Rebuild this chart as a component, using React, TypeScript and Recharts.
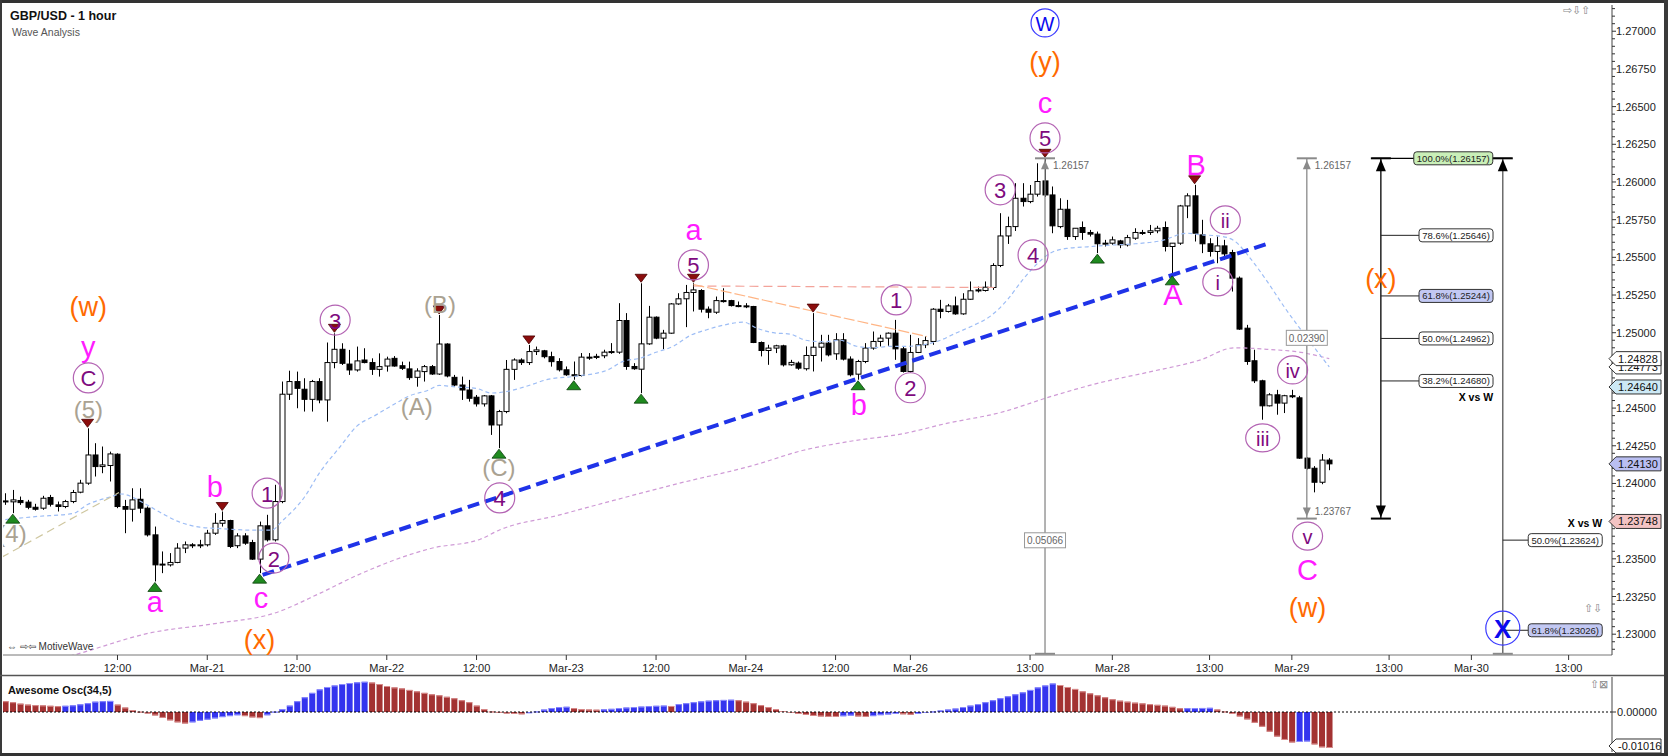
import React from 'react';
import { ComposedChart, Bar, Line, Scatter, XAxis, YAxis, ReferenceLine } from 'recharts';

const FONT = '"Liberation Sans", Arial, Helvetica, sans-serif';

// ---------- axes ----------
// x = trading hours counted from the Sunday Mar-19 21:00 open (weekend hours skipped)
const dateTickHours = [15, 27, 39, 51, 63, 75, 87, 99, 111, 121, 137, 148, 161, 172, 185, 196, 209];
const dateTickLabels = ['12:00', 'Mar-21', '12:00', 'Mar-22', '12:00', 'Mar-23', '12:00', 'Mar-24', '12:00', 'Mar-26', '13:00', 'Mar-28', '13:00', 'Mar-29', '13:00', 'Mar-30', '13:00'];
const priceLabels = [1.23, 1.2325, 1.235, 1.2375, 1.24, 1.2425, 1.245, 1.2475, 1.25, 1.2525, 1.255, 1.2575, 1.26, 1.2625, 1.265, 1.2675, 1.27];
const axisMarkers = [1.24773, 1.24828, 1.2464, 1.2413, 1.23748];
const oscAxisLabels = [0, -0.01016];

const X_MIN = -0.307;
const X_MAX = 214.8;
const P_MIN = 1.22862;
const P_MAX = 1.27174;
const AO_MIN = -0.01129;
const AO_MAX = 0.00988;

// ---------- GBP/USD hourly candles [open, high, low, close] ----------
const ohlc = [
  [1.23884, 1.23935, 1.23858, 1.2388], [1.23878, 1.23957, 1.23803, 1.23891], [1.23887, 1.23913, 1.23858, 1.23873], [1.23876, 1.23891, 1.23829, 1.23842],
  [1.23842, 1.23865, 1.2382, 1.23829], [1.23836, 1.23918, 1.23825, 1.23902], [1.23907, 1.23924, 1.23847, 1.23862], [1.23858, 1.2388, 1.23814, 1.23847],
  [1.23847, 1.23891, 1.23836, 1.2388], [1.2388, 1.23957, 1.23869, 1.2394], [1.23942, 1.24024, 1.23935, 1.24002], [1.24002, 1.24366, 1.23991, 1.24189],
  [1.24189, 1.24267, 1.24046, 1.24112], [1.24112, 1.24245, 1.24068, 1.24123], [1.24119, 1.24211, 1.24013, 1.24196], [1.24194, 1.242, 1.23836, 1.23847],
  [1.23847, 1.23891, 1.2367, 1.23829], [1.23829, 1.23968, 1.23747, 1.23891], [1.23895, 1.23968, 1.23803, 1.23836], [1.23836, 1.23847, 1.23648, 1.23659],
  [1.23659, 1.23714, 1.2335, 1.2346], [1.2346, 1.23549, 1.23405, 1.23465], [1.2346, 1.23538, 1.23449, 1.23476], [1.23476, 1.23604, 1.23471, 1.23571],
  [1.23571, 1.23615, 1.23538, 1.23593], [1.23593, 1.23604, 1.23571, 1.2359], [1.2359, 1.23626, 1.23571, 1.23593], [1.23593, 1.23692, 1.23582, 1.2367],
  [1.2367, 1.23803, 1.23659, 1.23736], [1.23736, 1.23814, 1.23714, 1.23754], [1.23754, 1.23759, 1.23571, 1.23582], [1.23587, 1.2367, 1.23571, 1.23652],
  [1.23652, 1.2367, 1.23593, 1.23604], [1.23608, 1.23626, 1.23493, 1.23498], [1.23498, 1.23747, 1.23405, 1.23719], [1.23719, 1.23792, 1.23615, 1.23626],
  [1.23626, 1.23991, 1.23615, 1.2388], [1.2388, 1.24676, 1.23869, 1.24592], [1.24592, 1.24748, 1.24554, 1.24676], [1.24676, 1.24742, 1.24499, 1.24631],
  [1.24625, 1.24698, 1.24477, 1.24558], [1.24558, 1.24687, 1.24477, 1.24676], [1.24676, 1.24698, 1.24532, 1.24554], [1.24554, 1.24935, 1.2441, 1.24802],
  [1.24802, 1.24996, 1.24764, 1.2489], [1.2489, 1.2493, 1.24786, 1.24797], [1.24792, 1.24886, 1.2472, 1.24753], [1.24753, 1.24908, 1.24742, 1.24813],
  [1.24819, 1.24897, 1.24797, 1.24802], [1.24802, 1.2483, 1.2472, 1.24757], [1.24757, 1.24863, 1.24709, 1.24775], [1.24779, 1.24841, 1.24742, 1.24825],
  [1.2483, 1.24845, 1.24775, 1.24779], [1.24781, 1.24808, 1.24753, 1.24764], [1.2476, 1.24808, 1.24687, 1.24702], [1.24704, 1.24764, 1.24642, 1.24746],
  [1.24742, 1.24786, 1.24676, 1.24775], [1.24775, 1.24786, 1.2472, 1.24726], [1.24726, 1.25118, 1.2472, 1.24925], [1.24925, 1.2493, 1.24704, 1.24713],
  [1.24704, 1.2472, 1.24642, 1.24653], [1.24653, 1.24709, 1.24554, 1.2462], [1.2462, 1.24687, 1.24543, 1.24565], [1.24572, 1.24587, 1.2451, 1.24528],
  [1.24528, 1.24587, 1.2451, 1.24581], [1.24581, 1.24587, 1.24322, 1.24388], [1.24388, 1.24488, 1.24234, 1.24477], [1.24477, 1.24819, 1.24466, 1.24757],
  [1.24757, 1.2483, 1.24687, 1.24819], [1.24819, 1.2483, 1.24786, 1.24802], [1.24802, 1.24919, 1.24786, 1.24875], [1.24875, 1.24908, 1.24852, 1.24886],
  [1.2488, 1.24886, 1.2483, 1.24841], [1.24841, 1.24874, 1.24775, 1.24808], [1.24809, 1.24831, 1.24743, 1.24754], [1.24754, 1.24776, 1.24714, 1.24721],
  [1.24721, 1.24809, 1.24688, 1.24716], [1.24716, 1.24865, 1.2471, 1.24838], [1.24838, 1.24865, 1.2482, 1.24836], [1.24836, 1.2486, 1.24825, 1.24843],
  [1.24847, 1.24887, 1.24831, 1.24871], [1.24869, 1.24931, 1.2486, 1.24875], [1.24871, 1.25196, 1.2486, 1.25081], [1.25081, 1.2513, 1.24754, 1.24776],
  [1.24776, 1.24798, 1.24754, 1.24761], [1.24758, 1.25328, 1.24599, 1.24926], [1.24926, 1.25178, 1.2492, 1.25103], [1.25103, 1.25108, 1.24957, 1.24964],
  [1.24964, 1.25019, 1.24891, 1.24997], [1.24997, 1.25196, 1.24993, 1.25191], [1.25191, 1.25262, 1.25185, 1.25225], [1.25225, 1.25317, 1.25037, 1.25267],
  [1.25267, 1.25328, 1.25141, 1.25284], [1.2528, 1.25289, 1.25134, 1.25156], [1.25156, 1.25174, 1.25096, 1.25136], [1.25136, 1.2524, 1.25125, 1.25213],
  [1.25213, 1.25295, 1.252, 1.25209], [1.25213, 1.25218, 1.25174, 1.2518], [1.2518, 1.25207, 1.25169, 1.25178], [1.25178, 1.25196, 1.25163, 1.25176],
  [1.25174, 1.25178, 1.24931, 1.24935], [1.24935, 1.24942, 1.24843, 1.24882], [1.24882, 1.2492, 1.24787, 1.24898], [1.24898, 1.2492, 1.24865, 1.24913],
  [1.24913, 1.2492, 1.24776, 1.24787], [1.24787, 1.2482, 1.24781, 1.24803], [1.24798, 1.24809, 1.24754, 1.24765], [1.24761, 1.24909, 1.24749, 1.24849],
  [1.24849, 1.2513, 1.24743, 1.24904], [1.24904, 1.24986, 1.24809, 1.24931], [1.24931, 1.24986, 1.24843, 1.24853], [1.2486, 1.24997, 1.2482, 1.24953],
  [1.24953, 1.24997, 1.24816, 1.24825], [1.24825, 1.24843, 1.2471, 1.24721], [1.24725, 1.2482, 1.24688, 1.24809], [1.24809, 1.24931, 1.24798, 1.24898],
  [1.24898, 1.25008, 1.24887, 1.24942], [1.24942, 1.24986, 1.24909, 1.24964], [1.24964, 1.25002, 1.24913, 1.24997], [1.24997, 1.25085, 1.2482, 1.24893],
  [1.24893, 1.24909, 1.24736, 1.24743], [1.24743, 1.24986, 1.24736, 1.24869], [1.24869, 1.24964, 1.24865, 1.2492], [1.2492, 1.24975, 1.24898, 1.24948],
  [1.24942, 1.25163, 1.2492, 1.25156], [1.25156, 1.25218, 1.25096, 1.25141], [1.25141, 1.25191, 1.25134, 1.25178], [1.25178, 1.2524, 1.25119, 1.25125],
  [1.25125, 1.25262, 1.25119, 1.25222], [1.25222, 1.2534, 1.25218, 1.25278], [1.25278, 1.25306, 1.25267, 1.25284], [1.2528, 1.2534, 1.25273, 1.25302],
  [1.253, 1.25461, 1.25284, 1.25446], [1.25446, 1.25793, 1.25435, 1.25642], [1.25642, 1.2577, 1.25589, 1.25704], [1.25704, 1.25992, 1.25675, 1.25892],
  [1.25892, 1.25992, 1.25837, 1.2587], [1.2587, 1.2598, 1.25859, 1.25919], [1.25919, 1.26124, 1.25903, 1.26003], [1.26007, 1.26157, 1.259, 1.25914],
  [1.25914, 1.2597, 1.2566, 1.25709], [1.25704, 1.25892, 1.25693, 1.25819], [1.25819, 1.25881, 1.25616, 1.25638], [1.25638, 1.25693, 1.25616, 1.25693],
  [1.25698, 1.25738, 1.25616, 1.25665], [1.25665, 1.25682, 1.25638, 1.25654], [1.25654, 1.25671, 1.25528, 1.2559], [1.2559, 1.25616, 1.25572, 1.25594],
  [1.25594, 1.25638, 1.25583, 1.25616], [1.25609, 1.25616, 1.25561, 1.25583], [1.25583, 1.25649, 1.25572, 1.25631], [1.25627, 1.25693, 1.25616, 1.25665],
  [1.25665, 1.25682, 1.25649, 1.2566], [1.25665, 1.25715, 1.25649, 1.25676], [1.25676, 1.25709, 1.2566, 1.25693], [1.25698, 1.25738, 1.25539, 1.25572],
  [1.25572, 1.25594, 1.25384, 1.25594], [1.25594, 1.25848, 1.25583, 1.25841], [1.25841, 1.25925, 1.2576, 1.25908], [1.25908, 1.25981, 1.25605, 1.2566],
  [1.25649, 1.25749, 1.25528, 1.2559], [1.2559, 1.25627, 1.25505, 1.25539], [1.25539, 1.25638, 1.25461, 1.25576], [1.25576, 1.25616, 1.25483, 1.25523],
  [1.25532, 1.2555, 1.25273, 1.25362], [1.25362, 1.25373, 1.25019, 1.25024], [1.2503, 1.25052, 1.24787, 1.24809], [1.24814, 1.24887, 1.24666, 1.24681],
  [1.24681, 1.24688, 1.24423, 1.24515], [1.24515, 1.24599, 1.24511, 1.24588], [1.24588, 1.24621, 1.24456, 1.24533], [1.24533, 1.24588, 1.24467, 1.24582],
  [1.24582, 1.24621, 1.24566, 1.24575], [1.24568, 1.24581, 1.24163, 1.24168], [1.24168, 1.24173, 1.24093, 1.24101], [1.24101, 1.24115, 1.23941, 1.24008],
  [1.24008, 1.24195, 1.23995, 1.24155], [1.24155, 1.24168, 1.24088, 1.2413],
];

// ---------- Awesome Oscillator (34,5), one value per candle ----------
const awesomeOsc = [
  0.00305, 0.00277, 0.00235, 0.00208, 0.00194, 0.00186, 0.00175, 0.00166,
  0.00175, 0.00188, 0.00216, 0.00249, 0.00291, 0.00305, 0.00313,
  0.00208, 0.00125, 0.00055, 0.00008,
  -0.00042, -0.00097, -0.00166, -0.00235, -0.00291, -0.00324,
  -0.00291, -0.00249, -0.00216, -0.0018, -0.00144, -0.00116, -0.00091,
  -0.00116, -0.00152, -0.00172,
  -0.00091, 0.00008, 0.00083,
  0.0018, 0.00305, 0.00416, 0.0054, 0.00637, 0.00706, 0.00748, 0.00789, 0.00817, 0.00837, 0.00853,
  0.00831, 0.00789, 0.00734, 0.00693, 0.00665, 0.00623, 0.00582, 0.0054, 0.00499, 0.00471, 0.00429, 0.00388, 0.00332, 0.00277, 0.0018, 0.00083, 0.00014,
  -0.00019, -0.00042, -0.00055, -0.00064,
  -0.00033, 0.00014, 0.00069, 0.00111, 0.00139, 0.00147,
  0.00111, 0.00083, 0.00069, 0.00064,
  0.00075, 0.00089, 0.00111, 0.00125, 0.00139, 0.00152, 0.00166, 0.00175, 0.0018,
  0.0017,
  0.00222, 0.00249, 0.00277, 0.00299, 0.00319, 0.00332, 0.00341, 0.00346,
  0.00332, 0.00291, 0.00249, 0.00194, 0.00139, 0.00083, 0.00028,
  -0.00028, -0.00055, -0.00083, -0.00111, -0.00125, -0.00139, -0.0014,
  -0.00119, -0.001, -0.00125, -0.00139, -0.00116, -0.00089, -0.00069, -0.00055, -0.00064, -0.00078, -0.00055, -0.00028, 0.00014,
  0.00042, 0.00069, 0.00097, 0.00139, 0.0018, 0.00222, 0.00277, 0.00332, 0.00388, 0.00443, 0.00499, 0.00554, 0.00623, 0.00693, 0.00748, 0.00803,
  0.00762, 0.00706, 0.00651, 0.00582, 0.00526, 0.00471, 0.00416, 0.0036, 0.00319, 0.00291, 0.00263, 0.00242, 0.00222, 0.00202, 0.0018, 0.00145, 0.00105,
  0.00108, 0.00111, 0.00114, 0.00118,
  0.00069, 0.00014,
  -0.00055, -0.00125, -0.00208, -0.00305, -0.00416, -0.00554, -0.00693, -0.00789, -0.00859,
  -0.00845, -0.00831,
  -0.00914, -0.00997, -0.01016,
];

// ---------- moving averages [hour, value] ----------
const fastMA = [
  [0, 1.2376], [4, 1.2378], [9, 1.238], [11, 1.2386], [14, 1.2391], [15.5, 1.2393], [18.5, 1.2387], [21, 1.238], [23, 1.2375],
  [26, 1.2371], [29, 1.237], [33, 1.2369], [35.6, 1.2369], [37, 1.2375], [40, 1.2391], [42, 1.2407], [44.7, 1.2424], [47, 1.2438],
  [49.4, 1.2445], [51.8, 1.2452], [54, 1.2458], [56.6, 1.2462], [58, 1.2465], [60.4, 1.2464], [63, 1.2463], [65, 1.246], [67, 1.2461],
  [70, 1.2465], [72.5, 1.2469], [76, 1.2471], [80.4, 1.2475], [82.6, 1.2481], [84.8, 1.2483], [87, 1.2487], [89.3, 1.2491], [91.5, 1.2498],
  [93.8, 1.2502], [96, 1.2505], [98.7, 1.2507], [100.5, 1.2503], [102.7, 1.25], [105, 1.2499], [107, 1.2495], [109.4, 1.2494], [111.6, 1.2495],
  [113.8, 1.2491], [116, 1.249], [118.3, 1.2491], [120.5, 1.2491], [122.8, 1.2492], [125, 1.2495], [127.2, 1.25], [129.5, 1.2505], [131.7, 1.2511],
  [134, 1.2522], [136, 1.2535], [137.6, 1.2544], [139.8, 1.2553], [142, 1.2556], [144.7, 1.2557], [147.4, 1.2558], [151, 1.2559], [154.5, 1.2561],
  [158, 1.2566], [159.8, 1.2565], [162.5, 1.2564], [164.3, 1.2561], [166.5, 1.2549], [168.7, 1.2534], [171, 1.2517], [173.2, 1.2502], [177, 1.24773],
];
const slowMA = [
  [5, 1.2281], [9, 1.2286], [19.5, 1.2301], [28, 1.2307], [36, 1.2314], [42, 1.2327], [47, 1.2339], [57, 1.2357], [63.5, 1.2363], [66, 1.2369],
  [74, 1.2379], [80, 1.2387], [90, 1.24], [100, 1.2412], [106.7, 1.2422], [113, 1.2428], [120, 1.2433], [126, 1.244], [133, 1.2447], [140, 1.2458],
  [146.5, 1.2467], [153, 1.2474], [159.8, 1.2482], [164.3, 1.249], [168.7, 1.2489], [173.2, 1.2487], [177, 1.24828],
];

// ---------- pivots ----------
const peakMarks = [11, 29, 44, 58, 70, 85, 92, 108, 139, 159];
const troughMarks = [1, 20, 34, 66, 76, 85, 114, 146, 156];

// ---------- wave labels [hour, price, text, style] ----------
const waveLabels = [
  [11.1, 1.25171, '(w)', 'orange'], [11.1, 1.24905, 'y', 'mag'], [11.1, 1.247, 'C', 'circ'], [11.1, 1.24488, '(5)', 'grey'],
  [0.9, 1.2367, '(4)', 'grey'], [20.0, 1.23213, 'a', 'mag'], [28.0, 1.23976, 'b', 'mag'], [34.2, 1.2324, 'c', 'mag'],
  [34.0, 1.2296, '(x)', 'orange'], [35.0, 1.23936, '1', 'circ'], [35.9, 1.23505, '2', 'circ'], [44.1, 1.25084, '3', 'circ'],
  [58.1, 1.25184, '(B)', 'grey'], [55.0, 1.24508, '(A)', 'grey'], [66.0, 1.24103, '(C)', 'grey'], [66.1, 1.23904, '4', 'circ'],
  [92.0, 1.25682, 'a', 'mag'], [92.0, 1.2545, '5', 'circ'], [119.1, 1.25218, '1', 'circ'], [114.1, 1.24522, 'b', 'mag'],
  [121.0, 1.24635, '2', 'circ'], [133.0, 1.25948, '3', 'circ'], [137.4, 1.25516, '4', 'circ'], [139.0, 1.26292, '5', 'circ'],
  [139.0, 1.26524, 'c', 'mag'], [139.0, 1.26796, '(y)', 'orange'], [139.0, 1.27055, 'W', 'blue'], [156.1, 1.25252, 'A', 'mag'],
  [159.2, 1.26112, 'B', 'mag'], [163.1, 1.25748, 'ii', 'roman'], [162.1, 1.25337, 'i', 'roman'], [168.1, 1.24302, 'iii', 'roman'],
  [172.1, 1.24753, 'iv', 'roman'], [174.1, 1.23651, 'v', 'roman'], [174.1, 1.23425, 'C', 'mag'], [174.1, 1.23173, '(w)', 'orange'],
  [183.9, 1.25355, '(x)', 'orange'], [200.2, 1.2304, 'X', 'blue'],
];

// ---------- measuring / fibonacci tools ----------
const projHigh = 1.26157;
const projLow = 1.23767;
const measureHours = [139, 174];
const fibHours = [183.9, 200.2];
const fibXLevels = [1.26157, 1.25646, 1.25244, 1.24962, 1.2468];
const fibXLabels = ['100.0%(1.26157)', '78.6%(1.25646)', '61.8%(1.25244)', '50.0%(1.24962)', '38.2%(1.24680)'];
const fibWLevels = [1.23624, 1.23026];
const fibWLabels = ['50.0%(1.23624)', '61.8%(1.23026)'];

// ---------- derived tables ----------
const candleData = ohlc.map((r, i) => ({ n: i, o: r[0], h: r[1], l: r[2], c: r[3] }));
const aoData = awesomeOsc.map((v, i) => ({ n: i, ao: v, up: i > 0 && v > awesomeOsc[i - 1] }));
const fastData = fastMA.map(([n, v]) => ({ n, v }));
const slowData = slowMA.map(([n, v]) => ({ n, v }));
const peakData = peakMarks.map((i) => ({ n: i, p: ohlc[i][1] }));
const troughData = troughMarks.map((i) => ({ n: i, p: ohlc[i][2] }));
const labelData = waveLabels.map(([n, p, t, k]) => ({ n, p, t, k }));
const decorData = [
  { n: measureHours[0], p: projHigh, k: 'gUp', t: '1.26157' },
  { n: measureHours[0], p: P_MIN + 0.00008, k: 'gCap' },
  { n: measureHours[0], p: 1.23623, k: 'gBox', t: '0.05066' },
  { n: measureHours[1], p: projHigh, k: 'gUp', t: '1.26157' },
  { n: measureHours[1], p: projLow, k: 'gDown', t: '1.23767' },
  { n: measureHours[1], p: 1.24966, k: 'gBox', t: '0.02390' },
  { n: fibHours[0], p: projHigh, k: 'fUp' },
  { n: fibHours[0], p: projLow, k: 'fDown' },
  { n: fibHours[1], p: projHigh, k: 'fUp' },
  { n: fibHours[1], p: P_MIN + 0.00008, k: 'gCap' },
  ...fibXLevels.map((p, i) => ({ n: i === 0 ? 188.3 : 189.0, p, k: 'fBox', t: fibXLabels[i] })),
  ...fibWLevels.map((p, i) => ({ n: 203.6, p, k: 'fBox', t: fibWLabels[i] })),
  { n: 198.9, p: 1.24575, k: 'xvw', t: 'X vs W' },
  { n: 213.5, p: 1.23738, k: 'xvw', t: 'X vs W' },
];

const minorTicks: number[] = [];
for (let i = 0; i <= 85; i++) minorTicks.push(Math.round((1.229 + i * 0.0005) * 100000) / 100000);
const yTicks = [...minorTicks, ...axisMarkers];

// ---------- renderers ----------
const CandleShape = (props: any) => {
  const { x, y, width, height } = props;
  const d = props.payload || props;
  if (x == null || d == null || d.h == null) return null;
  const cx = Math.round(x + width / 2) + 0.5;
  const yTop = Math.min(y, y + height);
  const yBot = Math.max(y, y + height);
  const span = d.h - d.l || 1e-9;
  const py = (p: number) => yTop + ((d.h - p) / span) * (yBot - yTop);
  const bTop = py(Math.max(d.o, d.c));
  const bBot = py(Math.min(d.o, d.c));
  const up = d.c >= d.o;
  return (
    <g>
      <line x1={cx} x2={cx} y1={yTop} y2={yBot} stroke="#000" strokeWidth={1} />
      <rect x={cx - 2.5} y={bTop} width={5} height={Math.max(1, bBot - bTop)} fill={up ? '#fff' : '#000'} stroke="#000" strokeWidth={1} />
    </g>
  );
};

const AOShape = (props: any) => {
  const { x, y, width, height } = props;
  const d = props.payload || props;
  if (x == null) return null;
  const top = Math.min(y, y + height);
  const h = Math.max(0.8, Math.abs(height));
  const fill = d.up ? '#3434ee' : '#a33232';
  const lite = d.up ? '#8c8cff' : '#d98c8c';
  const edgeY = d.ao >= 0 ? top : top + h - 1;
  return (
    <g>
      <rect x={x} y={top} width={width} height={h} fill={fill} />
      <rect x={x} y={edgeY} width={width} height={1} fill={lite} />
    </g>
  );
};

const PeakShape = (props: any) => {
  const { cx, cy } = props;
  if (cx == null) return null;
  return <polygon points={`${cx - 6},${cy - 9} ${cx + 6},${cy - 9} ${cx},${cy - 1}`} fill="#8b0d0d" stroke="#4a0000" strokeWidth={0.8} />;
};
const TroughShape = (props: any) => {
  const { cx, cy } = props;
  if (cx == null) return null;
  return <polygon points={`${cx - 7},${cy + 10} ${cx + 7},${cy + 10} ${cx},${cy + 1}`} fill="#1f8a1f" stroke="#0b3d0b" strokeWidth={0.8} />;
};

const LabelShape = (props: any) => {
  const { cx, cy } = props;
  const d = props.payload || {};
  if (cx == null) return null;
  const common = { x: cx, y: cy, textAnchor: 'middle' as const, dominantBaseline: 'central' as const, fontFamily: FONT };
  if (d.k === 'orange') return <text {...common} fontSize={27} fill="#ff6a00">{d.t}</text>;
  if (d.k === 'mag') return <text {...common} fontSize={29} fill="#ff1cff">{d.t}</text>;
  if (d.k === 'grey') return <text {...common} fontSize={24} fill="#aaa292">{d.t}</text>;
  if (d.k === 'circ')
    return (
      <g>
        <circle cx={cx} cy={cy} r={15} fill="none" stroke="#b363b3" strokeWidth={1.2} />
        <text {...common} y={cy + 1} fontSize={22} fill="#7e0a7e">{d.t}</text>
      </g>
    );
  if (d.k === 'roman') {
    const rx = d.t.length === 3 ? 17 : 15;
    return (
      <g>
        <ellipse cx={cx} cy={cy} rx={rx} ry={14} fill="none" stroke="#b363b3" strokeWidth={1.2} />
        <text {...common} y={cy + 1} fontSize={20} fill="#7e0a7e">{d.t}</text>
      </g>
    );
  }
  if (d.k === 'blue')
    return (
      <g>
        <circle cx={cx} cy={cy} r={d.t === 'X' ? 17 : 14} fill="none" stroke="#3a3aff" strokeWidth={1.2} />
        <text {...common} y={cy + 1} fontSize={d.t === 'X' ? 26 : 20} fontWeight={d.t === 'X' ? 'bold' : 'normal'} fill="#0a0aee">{d.t}</text>
      </g>
    );
  return null;
};

const DecorShape = (props: any) => {
  const { cx, cy } = props;
  const d = props.payload || {};
  if (cx == null) return null;
  const grey = '#8a8a8a';
  switch (d.k) {
    case 'gUp':
      return (
        <g>
          <line x1={cx - 10} x2={cx + 10} y1={cy} y2={cy} stroke={grey} strokeWidth={2} />
          <polygon points={`${cx - 4},${cy + 11} ${cx + 4},${cy + 11} ${cx},${cy + 2}`} fill={grey} />
          <text x={cx + 8} y={cy + 11} fontSize={10} fill="#666" fontFamily={FONT}>{d.t}</text>
        </g>
      );
    case 'gDown':
      return (
        <g>
          <line x1={cx - 10} x2={cx + 10} y1={cy} y2={cy} stroke={grey} strokeWidth={2} />
          <polygon points={`${cx - 4},${cy - 11} ${cx + 4},${cy - 11} ${cx},${cy - 2}`} fill={grey} />
          <text x={cx + 8} y={cy - 4} fontSize={10} fill="#666" fontFamily={FONT}>{d.t}</text>
        </g>
      );
    case 'gCap':
      return <line x1={cx - 10} x2={cx + 10} y1={cy} y2={cy} stroke={grey} strokeWidth={2} />;
    case 'gBox':
      return (
        <g>
          <rect x={cx - 20.5} y={cy - 7.5} width={41} height={15} fill="#fff" stroke="#999" />
          <text x={cx} y={cy + 4} textAnchor="middle" fontSize={10} fill="#666" fontFamily={FONT}>{d.t}</text>
        </g>
      );
    case 'fUp':
      return (
        <g>
          <line x1={cx - 10} x2={cx + 10} y1={cy} y2={cy} stroke="#000" strokeWidth={2} />
          <polygon points={`${cx - 5},${cy + 13} ${cx + 5},${cy + 13} ${cx},${cy + 1}`} fill="#000" />
        </g>
      );
    case 'fDown':
      return (
        <g>
          <line x1={cx - 10} x2={cx + 10} y1={cy} y2={cy} stroke="#000" strokeWidth={2} />
          <polygon points={`${cx - 5},${cy - 13} ${cx + 5},${cy - 13} ${cx},${cy - 1}`} fill="#000" />
        </g>
      );
    case 'fBox': {
      const w = d.t.startsWith('100') ? 79 : 74;
      const fill = d.t.startsWith('100') ? '#c9efb8' : d.t.startsWith('61.8') ? '#c2c8f3' : '#fff';
      return (
        <g>
          <rect x={cx} y={cy - 6.5} width={w} height={13} rx={3} fill={fill} stroke="#333" />
          <text x={cx + w / 2} y={cy + 3.5} textAnchor="middle" fontSize={9.5} fill="#222" fontFamily={FONT}>{d.t}</text>
        </g>
      );
    }
    case 'xvw':
      return <text x={cx} y={cy + 4} textAnchor="end" fontSize={10.5} fontWeight="bold" fill="#000" fontFamily={FONT}>{d.t}</text>;
    default:
      return null;
  }
};

const markerFill: Record<string, string> = { '1.24773': '#fff', '1.24828': '#fff', '1.2464': '#cde9f5', '1.2413': '#b9bef2', '1.23748': '#f3c3c3' };

const Tag = ({ x, y, text, fill }: any) => (
  <g>
    <polygon points={`${x - 3},${y} ${x + 4},${y - 7} ${x + 49},${y - 7} ${x + 49},${y + 7} ${x + 4},${y + 7}`} fill={fill} stroke="#333" strokeWidth={1} />
    <text x={x + 6} y={y + 4} fontSize={11} fill="#111" fontFamily={FONT}>{text}</text>
  </g>
);

const PriceTick = (props: any) => {
  const { x, y, payload } = props;
  const v = payload.value;
  const mk = axisMarkers.find((m) => Math.abs(m - v) < 1e-7);
  if (mk !== undefined) return <Tag x={x} y={y} text={mk.toFixed(5)} fill={markerFill[String(mk)] || '#fff'} />;
  const major = priceLabels.some((m) => Math.abs(m - v) < 1e-7);
  return (
    <g>
      <line x1={x} x2={x + (major ? 4 : 3)} y1={y} y2={y} stroke="#333" />
      {major ? (
        <text x={x + 4} y={y + 4} fontSize={11} fill="#222" fontFamily={FONT}>{v.toFixed(5)}</text>
      ) : null}
    </g>
  );
};

const OscTick = (props: any) => {
  const { x, y, payload } = props;
  const v = payload.value;
  if (v !== 0) return <Tag x={x} y={y - 2} text={v.toFixed(5)} fill="#fff" />;
  return (
    <g>
      <line x1={x} x2={x + 4} y1={y} y2={y} stroke="#333" />
      <text x={x + 5} y={y + 4} fontSize={11} fill="#222" fontFamily={FONT}>{v.toFixed(5)}</text>
    </g>
  );
};

const DateTick = (props: any) => {
  const { x, y, payload } = props;
  const i = dateTickHours.indexOf(payload.value);
  return (
    <g>
      <line x1={x} x2={x} y1={y} y2={y + 5} stroke="#333" />
      <text x={x} y={y + 17} textAnchor="middle" fontSize={11} fill="#222" fontFamily={FONT}>{dateTickLabels[i]}</text>
    </g>
  );
};

export default function App() {
  return (
    <div style={{ position: 'absolute', left: 0, top: 0, width: 1668, height: 756, background: '#fff', fontFamily: FONT }}>
      <div style={{ position: 'absolute', left: 0, top: 0 }}>
        <ComposedChart width={1668} height={675} data={candleData} margin={{ top: 5, right: 0, bottom: 0, left: 3 }}>
          <XAxis type="number" dataKey="n" domain={[X_MIN, X_MAX]} allowDataOverflow ticks={dateTickHours} interval={0}
            tick={<DateTick />} tickLine={false} tickSize={0} tickMargin={0} height={20} axisLine={{ stroke: '#777' }} />
          <YAxis type="number" orientation="right" width={56} domain={[P_MIN, P_MAX]} allowDataOverflow ticks={yTicks} interval={0}
            tick={<PriceTick />} tickLine={false} tickSize={0} tickMargin={0} axisLine={{ stroke: '#444' }} />

          <Line data={slowData} dataKey="v" type="monotone" dot={false} stroke="#cf9ad6" strokeWidth={1.2} strokeDasharray="4 3" isAnimationActive={false} />
          <Line data={fastData} dataKey="v" type="monotone" dot={false} stroke="#9dbdf5" strokeWidth={1.2} strokeDasharray="4 3" isAnimationActive={false} />

          <ReferenceLine segment={[{ x: -0.5, y: 1.2351 }, { x: 15.2, y: 1.2394 }]} stroke="#cfc7a0" strokeWidth={1.2} strokeDasharray="8 5" ifOverflow="hidden" />
          <ReferenceLine segment={[{ x: 92, y: 1.2531 }, { x: 132.2, y: 1.253 }]} stroke="#f3a39a" strokeWidth={1.2} strokeDasharray="9 5" ifOverflow="hidden" />
          <ReferenceLine segment={[{ x: 92, y: 1.2532 }, { x: 123.2, y: 1.24975 }]} stroke="#ffb585" strokeWidth={1.2} strokeDasharray="11 3" ifOverflow="hidden" />

          <ReferenceLine segment={[{ x: measureHours[0], y: projHigh }, { x: measureHours[0], y: P_MIN + 0.00008 }]} stroke="#8a8a8a" strokeWidth={1.3} ifOverflow="hidden" />
          <ReferenceLine segment={[{ x: measureHours[1], y: projHigh }, { x: measureHours[1], y: projLow }]} stroke="#8a8a8a" strokeWidth={1.3} ifOverflow="hidden" />
          <ReferenceLine segment={[{ x: fibHours[0], y: projHigh }, { x: fibHours[0], y: projLow }]} stroke="#000" strokeWidth={1.3} ifOverflow="hidden" />
          <ReferenceLine segment={[{ x: fibHours[1], y: projHigh }, { x: fibHours[1], y: P_MIN + 0.00008 }]} stroke="#555" strokeWidth={1.3} ifOverflow="hidden" />
          <ReferenceLine segment={[{ x: 182.7, y: fibXLevels[0] }, { x: 201.4, y: fibXLevels[0] }]} stroke="#000" strokeWidth={1.2} ifOverflow="hidden" />
          {fibXLevels.slice(1).map((p) => (
            <ReferenceLine key={'fx' + p} segment={[{ x: fibHours[0], y: p }, { x: 189.0, y: p }]} stroke="#222" strokeWidth={1} ifOverflow="hidden" />
          ))}
          {fibWLevels.map((p) => (
            <ReferenceLine key={'fw' + p} segment={[{ x: fibHours[1], y: p }, { x: 203.6, y: p }]} stroke="#222" strokeWidth={1} ifOverflow="hidden" />
          ))}

          <Bar dataKey={(d: any) => [d.l, d.h]} barSize={5} shape={<CandleShape />} isAnimationActive={false} />

          <ReferenceLine segment={[{ x: 34.4, y: 1.23394 }, { x: 168.7, y: 1.2559 }]} stroke="#1f33e8" strokeWidth={4} strokeDasharray="12 6" ifOverflow="hidden" />

          <Scatter data={peakData} dataKey="p" shape={<PeakShape />} isAnimationActive={false} />
          <Scatter data={troughData} dataKey="p" shape={<TroughShape />} isAnimationActive={false} />
          <Scatter data={decorData} dataKey="p" shape={<DecorShape />} isAnimationActive={false} />
          <Scatter data={labelData} dataKey="p" shape={<LabelShape />} isAnimationActive={false} />
        </ComposedChart>
      </div>

      <div style={{ position: 'absolute', left: 0, top: 675 }}>
        <ComposedChart width={1668} height={81} data={aoData} margin={{ top: 2, right: 0, bottom: 4, left: 3 }}>
          <XAxis type="number" dataKey="n" domain={[X_MIN, X_MAX]} allowDataOverflow hide />
          <YAxis type="number" orientation="right" width={56} domain={[AO_MIN, AO_MAX]} allowDataOverflow ticks={oscAxisLabels} interval={0}
            tick={<OscTick />} tickLine={false} tickSize={0} tickMargin={0} axisLine={{ stroke: '#444' }} />
          <ReferenceLine y={0} stroke="#000" strokeWidth={1} strokeDasharray="2 2" />
          <Bar dataKey="ao" barSize={6} shape={<AOShape />} isAnimationActive={false} />
        </ComposedChart>
      </div>

      <svg width={1668} height={756} style={{ position: 'absolute', left: 0, top: 0, pointerEvents: 'none' }}>
        <rect x={0} y={0} width={1668} height={3} fill="#333" />
        <rect x={0} y={0} width={2} height={756} fill="#3a3a3a" />
        <rect x={1664} y={0} width={4} height={756} fill="#3a3a3a" />
        <rect x={0} y={753} width={1668} height={3} fill="#333" />
        <line x1={0} x2={1664} y1={675.5} y2={675.5} stroke="#555" strokeWidth={1.5} />
        <text x={10} y={20} fontSize={12.5} fontWeight="bold" fill="#111" fontFamily={FONT}>GBP/USD - 1 hour</text>
        <text x={12} y={36} fontSize={10.5} fill="#555" fontFamily={FONT}>Wave Analysis</text>
        <text x={7} y={650} fontSize={10} fill="#333" fontFamily={FONT}>⇔ ⇨⇦ MotiveWave</text>
        <text x={1563} y={14} fontSize={11} fill="#888" fontFamily={FONT}>⇨⇩⇧</text>
        <text x={1584} y={612} fontSize={11} fill="#888" fontFamily={FONT}>⇧⇩</text>
        <text x={8} y={694} fontSize={11} fontWeight="bold" fill="#111" fontFamily={FONT}>Awesome Osc(34,5)</text>
        <text x={1590} y={688} fontSize={11} fill="#888" fontFamily={FONT}>⇧⊠</text>
      </svg>
    </div>
  );
}
